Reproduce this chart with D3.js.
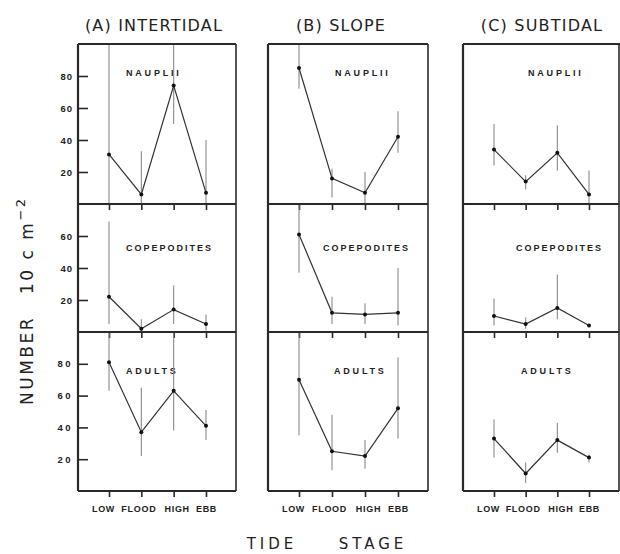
<!DOCTYPE html>
<html>
<head>
<meta charset="utf-8">
<script src="https://cdn.jsdelivr.net/npm/d3@7"></script>
<style>
  html, body { margin: 0; padding: 0; background: #fff; }
  svg { display: block; }
</style>
</head>
<body>
<div id="chart"></div>
<script>
// ---------------- DATA ----------------
const categories = ["LOW", "FLOOD", "HIGH", "EBB"];
const panelTitles = ["(A) INTERTIDAL", "(B) SLOPE", "(C) SUBTIDAL"];
const stageNames = ["NAUPLII", "COPEPODITES", "ADULTS"];

// values per panel (A, B, C), each over LOW, FLOOD, HIGH, EBB
const naupliiMean = [[31, 6, 74, 7], [85, 16, 7, 42], [34, 14, 32, 6]];
const naupliiLow  = [[0, 0, 50, 0], [72, 4, 0, 32], [24, 9, 21, 0]];
const naupliiHigh = [[100, 33, 100, 40], [100, 22, 20, 58], [50, 18, 49, 21]];

const copepoditesMean = [[22, 2, 14, 5], [61, 12, 11, 12], [10, 5, 15, 4]];
const copepoditesLow  = [[5, 0, 5, 1], [37, 5, 5, 4], [4, 2, 8, 3]];
const copepoditesHigh = [[69, 8, 29, 11], [80, 22, 18, 40], [21, 9, 36, 5]];

const adultsMean = [[81, 37, 63, 41], [70, 25, 22, 52], [33, 11, 32, 21]];
const adultsLow  = [[63, 22, 38, 32], [35, 13, 14, 33], [21, 5, 24, 18]];
const adultsHigh = [[100, 65, 100, 51], [100, 48, 32, 84], [45, 18, 43, 23]];

const rowMax = [100, 80, 100];
const yTickValues = [[20, 40, 60, 80], [20, 40, 60], [20, 40, 60, 80]];

const xAxisTitle = ["TIDE", "STAGE"];
const yAxisTitle = "NUMBER";

// ---------------- LAYOUT ----------------
const W = 620, H = 554;
const panelLeft = [78, 268, 463];
const panelRight = [236, 428, 619];
const rowTop = [44, 204, 332];
const rowBottom = [204, 332, 491];
const titleOffset = [-3, -7, 1];
const labelStart = [[48, 48, 48], [67, 55, 66], [65, 53, 58]];
const labelBaseline = [76, 251, 374];
const catLabelShift = [-6, -3, 3, 0];

const rows = [
  { mean: naupliiMean, lo: naupliiLow, hi: naupliiHigh },
  { mean: copepoditesMean, lo: copepoditesLow, hi: copepoditesHigh },
  { mean: adultsMean, lo: adultsLow, hi: adultsHigh }
];

const svg = d3.select("#chart").append("svg")
  .attr("width", W).attr("height", H);

const frameColor = "#2a2a2a";
const lineColor = "#333";
const errColor = "#8a8a8a";
const fontBold = "'Liberation Sans', Arial, sans-serif";

panelTitles.forEach((title, p) => {
  const L = panelLeft[p], R = panelRight[p];
  const x = d3.scalePoint().domain(categories).range([L + 31, R - 30]);
  const g = svg.append("g");

  // title
  g.append("text")
    .attr("x", (L + R) / 2 + titleOffset[p])
    .attr("y", 31)
    .attr("text-anchor", "middle")
    .attr("font-family", "'DejaVu Sans', sans-serif")
    .attr("font-size", 16)
    .attr("letter-spacing", 1.2)
    .attr("fill", "#222")
    .text(title);

  rows.forEach((row, r) => {
    const y = d3.scaleLinear().domain([0, rowMax[r]]).range([rowBottom[r], rowTop[r]]);
    const rg = g.append("g");

    // bottom axis ticks (pointing down) at each row base
    const xAxis = d3.axisBottom(x).tickSize(6).tickFormat(r === 2 ? d => d : () => "");
    const ax = rg.append("g")
      .attr("transform", `translate(0,${rowBottom[r]})`)
      .call(xAxis);
    ax.select(".domain").remove();
    ax.selectAll(".tick line").attr("stroke", frameColor).attr("stroke-width", 1.6);
    ax.selectAll(".tick text")
      .attr("font-family", fontBold)
      .attr("font-weight", "bold")
      .attr("font-size", 9)
      .attr("letter-spacing", 0.7)
      .attr("fill", "#222")
      .attr("dx", (d, i) => catLabelShift[i])
      .attr("dy", "1.3em");

    // left axis ticks only in panel A
    if (p === 0) {
      const yAxis = d3.axisLeft(y).tickValues(yTickValues[r]).tickSize(0).tickPadding(5);
      const ay = rg.append("g").attr("transform", `translate(${L},0)`).call(yAxis);
      ay.select(".domain").remove();
      ay.selectAll(".tick text")
        .attr("font-family", fontBold)
        .attr("font-weight", "bold")
        .attr("font-size", 9.5)
        .attr("letter-spacing", r === 2 ? 2.5 : 1)
        .attr("fill", "#222");
      ay.selectAll(".tick").append("line")
        .attr("x1", 0).attr("x2", 10)
        .attr("stroke", frameColor).attr("stroke-width", 1.6);
    }

    // stage label
    rg.append("text")
      .attr("x", L + labelStart[p][r])
      .attr("y", labelBaseline[r])
      .attr("font-family", fontBold)
      .attr("font-weight", "bold")
      .attr("font-size", 9)
      .attr("letter-spacing", r === 1 ? 2 : 2.8)
      .attr("fill", "#222")
      .text(stageNames[r]);

    const pts = categories.map((c, i) => ({
      c,
      m: row.mean[p][i],
      lo: Math.max(0, row.lo[p][i]),
      hi: Math.min(rowMax[r], row.hi[p][i])
    }));

    // error bars
    rg.selectAll("line.err").data(pts).enter().append("line")
      .attr("class", "err")
      .attr("x1", d => x(d.c)).attr("x2", d => x(d.c))
      .attr("y1", d => y(d.lo)).attr("y2", d => y(d.hi))
      .attr("stroke", errColor).attr("stroke-width", 1.1);

    // mean line
    rg.append("path")
      .datum(pts)
      .attr("fill", "none")
      .attr("stroke", lineColor)
      .attr("stroke-width", 1.2)
      .attr("d", d3.line().x(d => x(d.c)).y(d => y(d.m)));

    // points
    rg.selectAll("circle").data(pts).enter().append("circle")
      .attr("cx", d => x(d.c)).attr("cy", d => y(d.m))
      .attr("r", 2).attr("fill", "#111");
  });

  // frame
  const fr = g.append("g").attr("stroke", frameColor).attr("fill", "none");
  fr.append("line").attr("x1", L).attr("x2", L).attr("y1", rowTop[0]).attr("y2", rowBottom[2]).attr("stroke-width", 2.2);
  fr.append("line").attr("x1", R).attr("x2", R).attr("y1", rowTop[0]).attr("y2", rowBottom[2]).attr("stroke-width", 1.6);
  fr.append("line").attr("x1", L).attr("x2", p === 2 ? W : R).attr("y1", rowTop[0]).attr("y2", rowTop[0]).attr("stroke-width", 1.8);
  rowBottom.forEach(yb => {
    fr.append("line").attr("x1", L).attr("x2", R).attr("y1", yb).attr("y2", yb).attr("stroke-width", 1.8);
  });
});

// Y axis title
const yt = svg.append("text")
  .attr("transform", "translate(33,405) rotate(-90)")
  .attr("font-family", "'DejaVu Sans', sans-serif")
  .attr("font-size", 17)
  .attr("letter-spacing", 2.5)
  .attr("fill", "#222");
yt.append("tspan").text(yAxisTitle);
yt.append("tspan").attr("dx", 22).text("10 c m");
yt.append("tspan").attr("dy", -8).attr("font-size", 13).text("−2");

// X axis title
svg.append("text").attr("x", 272).attr("y", 549)
  .attr("text-anchor", "middle")
  .attr("font-family", "'DejaVu Sans', sans-serif")
  .attr("font-size", 15).attr("letter-spacing", 4).attr("fill", "#222")
  .text(xAxisTitle[0]);
svg.append("text").attr("x", 373).attr("y", 549)
  .attr("text-anchor", "middle")
  .attr("font-family", "'DejaVu Sans', sans-serif")
  .attr("font-size", 15).attr("letter-spacing", 4).attr("fill", "#222")
  .text(xAxisTitle[1]);
</script>
</body>
</html>
